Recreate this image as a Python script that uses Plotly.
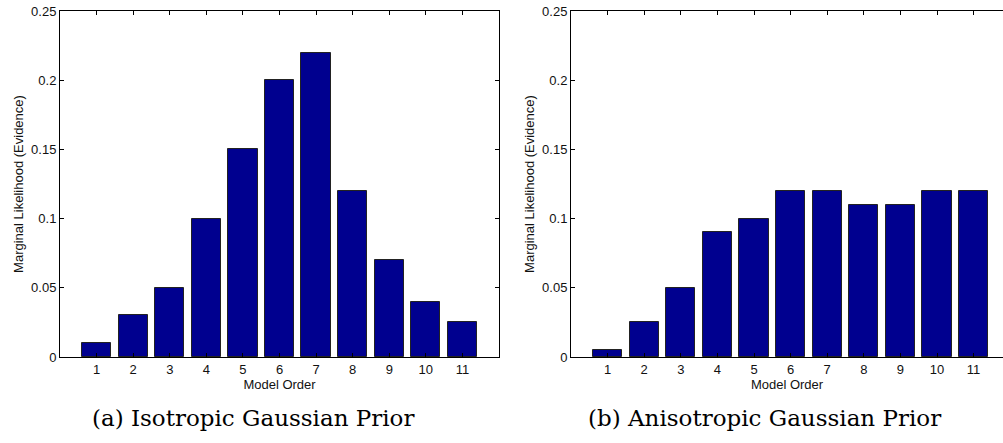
import plotly.graph_objects as go
from plotly.subplots import make_subplots

# Model orders on the x axis
model_order = [1, 2, 3, 4, 5, 6, 7, 8, 9, 10, 11]
order_labels = ["1", "2", "3", "4", "5", "6", "7", "8", "9", "10", "11"]

# Marginal likelihood (evidence) per model order
evidence_isotropic = [0.01, 0.03, 0.05, 0.10, 0.15, 0.20, 0.22, 0.12, 0.07, 0.04, 0.025]
evidence_anisotropic = [0.005, 0.025, 0.05, 0.09, 0.10, 0.12, 0.12, 0.11, 0.11, 0.12, 0.12]

y_ticks = [0, 0.05, 0.1, 0.15, 0.2, 0.25]
y_tick_text = ["0", "0.05", "0.1", "0.15", "0.2", "0.25"]

captions = ["(a) Isotropic Gaussian Prior", "(b) Anisotropic Gaussian Prior"]

BAR_FILL = "rgb(0,0,143)"
SANS = "Liberation Sans, Arial, sans-serif"
SERIF = "DejaVu Serif, serif"

W, H = 1003, 443
ML, MR, MT, MB = 60, 0, 11, 86
plot_w = W - ML - MR
plot_h = H - MT - MB

fig = make_subplots(rows=1, cols=2)

for col, values in ((1, evidence_isotropic), (2, evidence_anisotropic)):
    fig.add_trace(
        go.Bar(
            x=model_order,
            y=values,
            width=0.8,
            marker=dict(color=BAR_FILL, line=dict(color="#222222", width=1)),
            showlegend=False,
            hoverinfo="x+y",
        ),
        row=1, col=col,
    )

x_domains = [[0.0, (499 - ML) / plot_w], [(571 - ML) / plot_w, 1.0]]
x_ranges = [[0, 12], [0, (W - 571) / ((973 - 607) / 10)]]

for i, col in enumerate((1, 2)):
    fig.update_xaxes(
        domain=x_domains[i],
        range=x_ranges[i],
        tickmode="array",
        tickvals=model_order,
        ticktext=order_labels,
        ticks="inside",
        ticklen=4,
        tickcolor="black",
        showline=True,
        linecolor="black",
        linewidth=1,
        mirror="ticks",
        showgrid=False,
        zeroline=False,
        tickfont=dict(family=SANS, size=13, color="#111111"),
        title=dict(text="Model Order", standoff=2,
                   font=dict(family=SANS, size=13, color="#111111")),
        fixedrange=True,
        row=1, col=col,
    )
    fig.update_yaxes(
        range=[0, 0.25],
        tickmode="array",
        tickvals=y_ticks,
        ticktext=y_tick_text,
        ticks="inside",
        ticklen=4,
        tickcolor="black",
        showline=True,
        linecolor="black",
        linewidth=1,
        mirror="ticks" if col == 1 else False,
        showgrid=False,
        zeroline=False,
        tickfont=dict(family=SANS, size=13, color="#111111"),
        title=dict(text="Marginal Likelihood (Evidence)", standoff=4,
                   font=dict(family=SANS, size=13, color="#111111")),
        fixedrange=True,
        row=1, col=col,
    )

# Sub-figure captions below each panel
caption_x = [(253 - ML) / plot_w, (764 - ML) / plot_w]
caption_y = -(418 - (MT + plot_h)) / plot_h
for cx, text in zip(caption_x, captions):
    fig.add_annotation(
        x=cx, y=caption_y, xref="paper", yref="paper",
        text=text, showarrow=False,
        xanchor="center", yanchor="middle",
        font=dict(family=SERIF, size=23, color="black"),
    )

fig.update_layout(
    width=W, height=H,
    margin=dict(l=ML, r=MR, t=MT, b=MB),
    paper_bgcolor="white",
    plot_bgcolor="white",
    bargap=0,
)

fig.write_html("out.html")
